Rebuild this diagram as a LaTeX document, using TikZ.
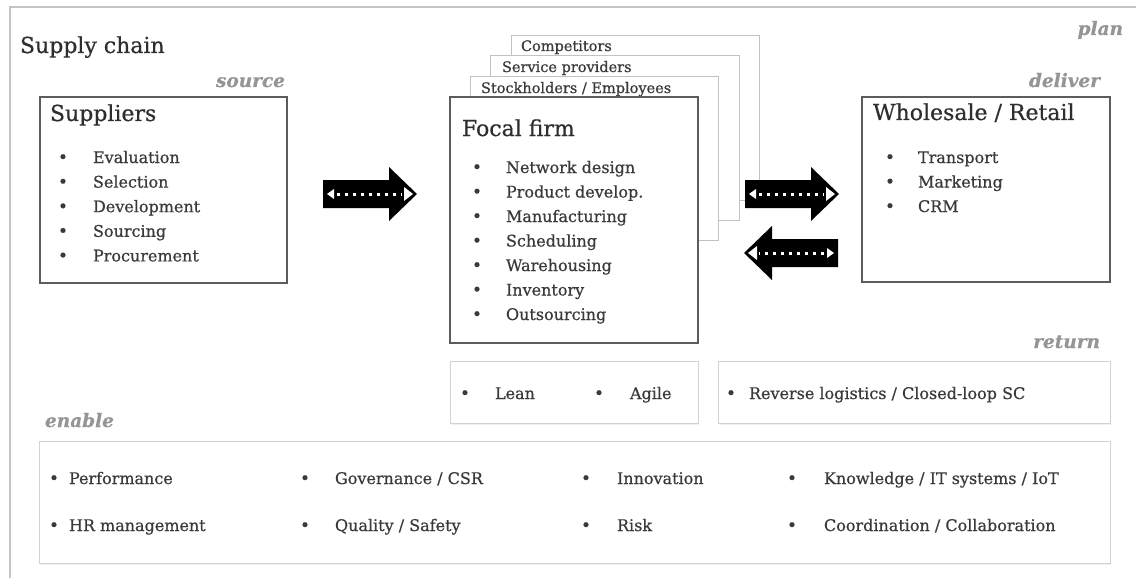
\documentclass[tikz,border=0pt]{standalone}
\usepackage{fontspec}
\setmainfont{DejaVu Serif}[FakeBold=0.6]
\usetikzlibrary{arrows.meta,shadows}
\definecolor{ink}{HTML}{3A3A3A}
\definecolor{tag}{HTML}{959595}
\definecolor{framegray}{HTML}{C4C4C4}
\definecolor{boxline}{HTML}{5C5C5C}
\definecolor{stackline}{HTML}{C2C2C2}
\definecolor{softline}{HTML}{D2D2D2}

\tikzset{
  every node/.style={inner sep=0pt, outer sep=0pt, text=ink},
  item/.style={anchor=base west, font=\fontsize{16}{18}\selectfont},
  bul/.style={anchor=base, font=\fontsize{17}{18}\selectfont},
  small/.style={anchor=base west, font=\fontsize{14.5}{16}\selectfont},
  heading/.style={anchor=base west, font=\fontsize{22}{24}\selectfont, text=black!82},
  stage/.style={anchor=base east, font=\fontsize{18.5}{22}\selectfont\bfseries\itshape, text=tag},
  mainbox/.style={draw=boxline, line width=1.6pt, fill=white, anchor=north west},
  stackbox/.style={draw=stackline, line width=0.9pt, fill=white, anchor=north west},
  softbox/.style={draw=softline, line width=1pt, fill=white, anchor=north west,
    drop shadow={shadow xshift=1pt, shadow yshift=-1.5pt, opacity=0.12}},
  fatarrow/.pic={
    \fill[black] (0,-14) -- (66,-14) -- (66,-27) -- (94,0) -- (66,27) -- (66,14) -- (0,14) -- cycle;
    \draw[white, line width=3pt, dash pattern=on 3pt off 5pt] (14,0) -- (79,0);
    \fill[white] (4,0) -- (11,-5) -- (11,5) -- cycle;
    \fill[white] (90,0) -- (81,-7) -- (81,7) -- cycle;
  }
}

\begin{document}
\begin{tikzpicture}[x=1pt,y=-1pt]
\useasboundingbox (0,0) rectangle (1136,578);

% outer frame: top and left edges
\draw[framegray, line width=1.6pt] (10,578) -- (10,7) -- (1136,7);

\node[heading] (sc) at (20,53) {Supply chain};
\node[stage] (plan) at (1123,35) {plan};

% ---- source ----
\node[stage] (source) at (285,87) {source};
\node[mainbox, minimum width=247pt, minimum height=186pt] (sup) at (40,97) {};
\node[heading] (supt) at (50,121) {Suppliers};
\foreach \t [count=\i] in {Evaluation,Selection,Development,Sourcing,Procurement}{
  \node[bul] (supb\i) at (63,163+24.6*\i-24.6) {•};
  \node[item] (supi\i) at (93,163+24.6*\i-24.6) {\t};
}

% ---- make: stacked actor sheets behind the focal firm ----
\node[stage] (make) at (756,87) {make};
\node[stackbox, minimum width=248pt, minimum height=165pt] (comp) at (511,35) {};
\node[small] (compt) at (521,51) {Competitors};
\node[stackbox, minimum width=249pt, minimum height=165pt] (serv) at (490,55) {};
\node[small] (servt) at (502,72) {Service providers};
\node[stackbox, minimum width=248pt, minimum height=164pt] (stock) at (470,76) {};
\node[small] (stockt) at (481,93) {Stockholders / Employees};
\node[mainbox, minimum width=248pt, minimum height=246pt] (focal) at (450,97) {};
\node[heading] (focalt) at (462,136) {Focal firm};
\foreach \t [count=\i] in {Network design,Product develop.,Manufacturing,Scheduling,Warehousing,Inventory,Outsourcing}{
  \node[bul] (focb\i) at (477,173+24.5*\i-24.5) {•};
  \node[item] (foci\i) at (506,173+24.5*\i-24.5) {\t};
}

% ---- deliver ----
\node[stage] (deliver) at (1100,87) {deliver};
\node[mainbox, minimum width=248pt, minimum height=185pt] (ret) at (862,97) {};
\node[heading] (rett) at (873,120) {Wholesale / Retail};
\foreach \t [count=\i] in {Transport,Marketing,CRM}{
  \node[bul] (retb\i) at (890,163+24.5*\i-24.5) {•};
  \node[item] (reti\i) at (918,163+24.5*\i-24.5) {\t};
}

% ---- flows between the stages ----
\coordinate (f1) at (323,194);
\coordinate (f2) at (745,194);
\coordinate (f3) at (838,253);
\pic at (f1) {fatarrow};
\pic at (f2) {fatarrow};
\pic[xscale=-1] at (f3) {fatarrow};

% ---- strategies and return ----
\node[stage] (return) at (1100,348) {return};
\node[softbox, minimum width=248pt, minimum height=62pt] (strat) at (450,361) {};
\node[bul] (lb) at (465,399) {•};
\node[item] (lean) at (495,399) {Lean};
\node[bul] (ab) at (599,399) {•};
\node[item] (agile) at (630,399) {Agile};
\node[softbox, minimum width=392pt, minimum height=62pt] (rev) at (718,361) {};
\node[bul] (rb) at (731,399) {•};
\node[item] (revt) at (749,399) {Reverse logistics / Closed-loop SC};

% ---- enablers ----
\node[stage, anchor=base west] (enable) at (45,427) {enable};
\node[softbox, minimum width=1071pt, minimum height=122pt] (enab) at (39,441) {};
\foreach \t/\x/\bx/\y [count=\i] in {
  {Performance}/69/54/484, {HR management}/69/54/531,
  {Governance / CSR}/335/305/484, {Quality / Safety}/335/305/531,
  {Innovation}/617/586/484, {Risk}/617/586/531,
  {Knowledge / IT systems / IoT}/824/792/484, {Coordination / Collaboration}/824/792/531}{
  \node[bul] (enb\i) at (\bx,\y) {•};
  \node[item] (eni\i) at (\x,\y) {\t};
}
\end{tikzpicture}
\end{document}
